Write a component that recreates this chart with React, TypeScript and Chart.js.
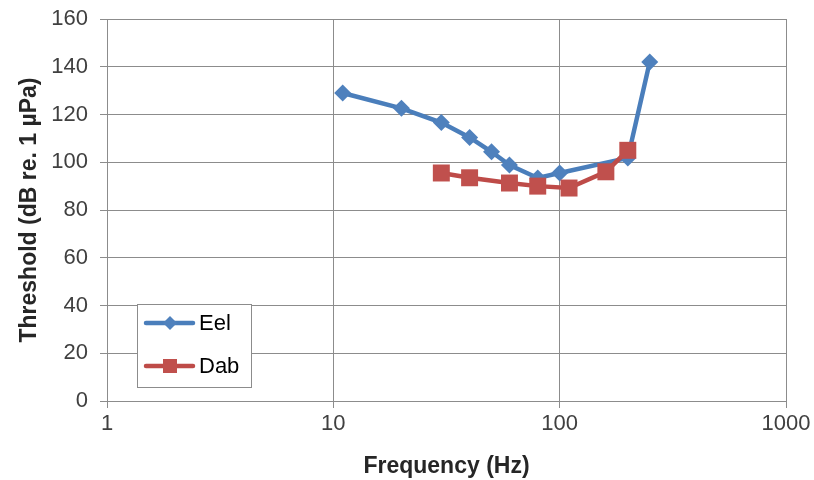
import React, { useEffect, useRef } from "react";
import { Chart, registerables } from "chart.js";

Chart.register(...registerables);

const eelFreq = [11, 20, 30, 40, 50, 60, 80, 100, 200, 250];
const eelThreshold = [129, 122.6, 116.6, 110.4, 104.4, 98.8, 93.4, 95.5, 101.8, 142];
const dabFreq = [30, 40, 60, 80, 110, 160, 200];
const dabThreshold = [95.5, 93.5, 91.3, 90, 89.2, 96, 105];
const xTickValues = [1, 10, 100, 1000];
const seriesNames = ["Eel", "Dab"];
const xTitle = "Frequency (Hz)";
const yTitle = "Threshold (dB re. 1 µPa)";

const FONT = "'Liberation Sans', Arial, sans-serif";
const BLUE_LINE = "#4A7EBB";
const BLUE_FILL = "#4F81BD";
const RED_LINE = "#BE4B48";
const RED_FILL = "#C0504D";
const GRID = "#8c8c8c";

const legendPlugin = {
  id: "insideLegend",
  afterDraw(chart: any) {
    const ctx = chart.ctx;
    const area = chart.chartArea;
    const ys = chart.scales.y;
    const left = area.left + 30;
    const top = Math.round(ys.getPixelForValue(40) - 1.5);
    const w = 114;
    const h = 83;
    ctx.save();
    ctx.fillStyle = "#ffffff";
    ctx.fillRect(left, top, w, h);
    ctx.strokeStyle = GRID;
    ctx.lineWidth = 1;
    ctx.strokeRect(left + 0.5, top + 0.5, w, h);
    const rows = [
      { name: seriesNames[0], line: BLUE_LINE, fill: BLUE_FILL, shape: "diamond", y: top + 19 },
      { name: seriesNames[1], line: RED_LINE, fill: RED_FILL, shape: "square", y: top + 62 },
    ];
    rows.forEach((r) => {
      ctx.strokeStyle = r.line;
      ctx.lineWidth = 4.5;
      ctx.lineCap = "round";
      ctx.beginPath();
      ctx.moveTo(left + 9, r.y);
      ctx.lineTo(left + 56, r.y);
      ctx.stroke();
      ctx.fillStyle = r.fill;
      const cx = left + 33;
      if (r.shape === "diamond") {
        ctx.beginPath();
        ctx.moveTo(cx, r.y - 7);
        ctx.lineTo(cx + 7, r.y);
        ctx.lineTo(cx, r.y + 7);
        ctx.lineTo(cx - 7, r.y);
        ctx.closePath();
        ctx.fill();
      } else {
        ctx.fillRect(cx - 7, r.y - 7, 14, 14);
      }
      ctx.fillStyle = "#000000";
      ctx.font = `22px ${FONT}`;
      ctx.textBaseline = "middle";
      ctx.textAlign = "left";
      ctx.fillText(r.name, left + 62, r.y + 1);
    });
    ctx.restore();
  },
};

export default function App() {
  const ref = useRef<HTMLCanvasElement | null>(null);
  useEffect(() => {
    document.body.style.margin = "0";
    const canvas = ref.current!;
    const chart = new Chart(canvas, {
      type: "line",
      data: {
        datasets: [
          {
            label: seriesNames[0],
            data: eelFreq.map((f, i) => ({ x: f, y: eelThreshold[i] })),
            borderColor: BLUE_LINE,
            backgroundColor: BLUE_FILL,
            borderWidth: 4.5,
            pointStyle: "rectRot",
            pointRadius: 8.5,
            pointBorderWidth: 0,
            pointBackgroundColor: BLUE_FILL,
            tension: 0,
            order: 1,
          },
          {
            label: seriesNames[1],
            data: dabFreq.map((f, i) => ({ x: f, y: dabThreshold[i] })),
            borderColor: RED_LINE,
            backgroundColor: RED_FILL,
            borderWidth: 4.5,
            pointStyle: "rect",
            pointRadius: 12,
            pointBorderWidth: 0,
            pointBackgroundColor: RED_FILL,
            tension: 0,
            order: 0,
          },
        ],
      },
      options: {
        responsive: false,
        animation: false,
        layout: { padding: { left: 0, top: 19, right: 28, bottom: 0 } },
        plugins: {
          legend: { display: false },
          tooltip: { enabled: false },
        },
        scales: {
          x: {
            type: "logarithmic",
            min: 1,
            max: 1000,
            afterBuildTicks: (scale: any) => {
              scale.ticks = xTickValues.map((v) => ({ value: v }));
            },
            afterFit: (scale: any) => {
              scale.height = 79;
            },
            ticks: {
              autoSkip: false,
              maxRotation: 0,
              padding: 3,
              color: "#404040",
              font: { family: FONT, size: 22 },
              callback: (v: any) => String(v),
            },
            grid: { color: GRID, lineWidth: 1, tickLength: 7, drawTicks: true },
            border: { color: GRID, width: 1 },
            title: {
              display: true,
              text: xTitle,
              color: "#262626",
              font: { family: FONT, size: 23, weight: "bold" },
              padding: { top: 0, bottom: 0 },
            },
          },
          y: {
            type: "linear",
            min: 0,
            max: 160,
            afterFit: (scale: any) => {
              scale.width = 107;
              scale.paddingTop = 0;
              scale.paddingBottom = 0;
            },
            ticks: {
              stepSize: 20,
              padding: 12,
              color: "#404040",
              font: { family: FONT, size: 22 },
            },
            grid: { color: GRID, lineWidth: 1, tickLength: 7, drawTicks: true },
            border: { color: GRID, width: 1 },
            title: {
              display: true,
              text: yTitle,
              color: "#262626",
              font: { family: FONT, size: 23, weight: "bold" },
              padding: { top: 16, bottom: 0 },
            },
          },
        },
      },
      plugins: [legendPlugin],
    } as any);
    return () => chart.destroy();
  }, []);
  return (
    <div style={{ position: "absolute", left: 0, top: 0, width: 814, height: 480, background: "#fff" }}>
      <canvas ref={ref} width={814} height={480} style={{ width: 814, height: 480 }} />
    </div>
  );
}
